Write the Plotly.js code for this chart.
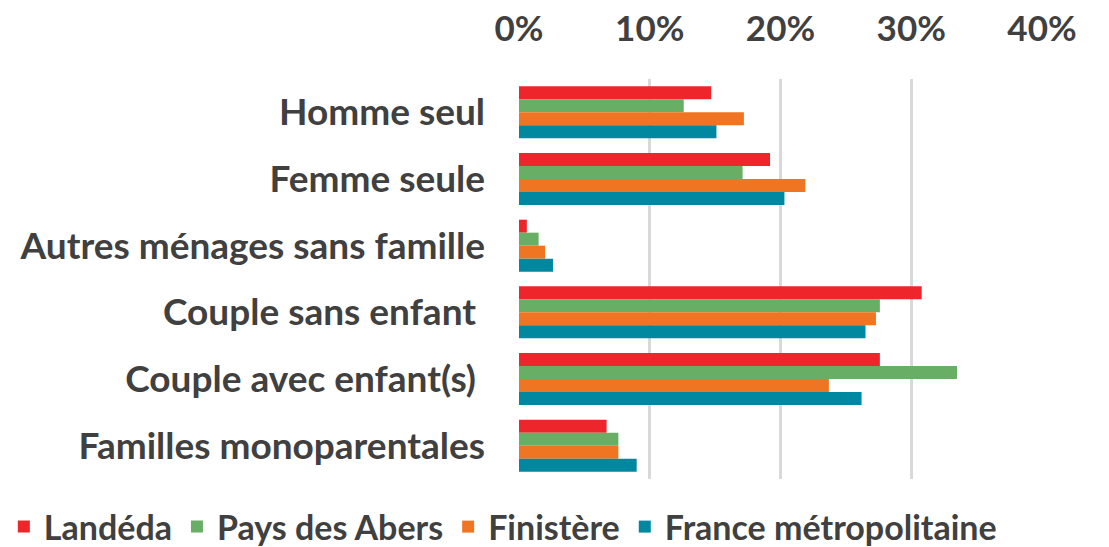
<!DOCTYPE html>
<html><head><meta charset="utf-8">
<script src="https://cdn.plot.ly/plotly-3.0.1.min.js"></script>
<style>html,body{margin:0;padding:0;background:#fff}#chart{width:1109px;height:547px}</style>
</head><body><div id="chart"></div>
<script>
const categories = ["Homme seul", "Femme seule", "Autres ménages sans famille", "Couple sans enfant ", "Couple avec enfant(s) ", "Familles monoparentales"];
const seriesNames = ["Landéda", "Pays des Abers", "Finistère", "France métropolitaine"];
const landeda = [14.7, 19.2, 0.6, 30.8, 27.6, 6.7];
const paysAbers = [12.6, 17.1, 1.5, 27.6, 33.5, 7.6];
const finistere = [17.2, 21.9, 2.0, 27.3, 23.7, 7.6];
const france = [15.1, 20.3, 2.6, 26.5, 26.2, 9.0];
const tickVals = [0, 10, 20, 30, 40];
const tickText = ["0%", "10%", "20%", "30%", "40%"];
const colors = ["#ee252b", "#68ae64", "#ef7522", "#0088a0"];
const allValues = [landeda, paysAbers, finistere, france];

const FONT = "Lato, 'Open Sans', sans-serif";
const traces = allValues.map((vals, i) => ({
  type: "bar", orientation: "h", name: seriesNames[i],
  y: categories, x: vals,
  marker: {color: colors[i], line: {width: 0}},
  hoverinfo: "x+y"
}));

const layout = {
  width: 1109, height: 547,
  margin: {l: 519, r: 67, t: 79, b: 68, autoexpand: false},
  barmode: "group", bargap: 0.22, bargroupgap: 0,
  paper_bgcolor: "#fff", plot_bgcolor: "#fff",
  font: {family: FONT, color: "#404040"},
  xaxis: {
    side: "top", range: [0, 40], tickvals: tickVals, ticktext: tickText,
    showgrid: true, gridcolor: "#d9d9d9", gridwidth: 3,
    zeroline: false, showline: false, ticks: "", ticklabelstandoff: 30,
    tickfont: {family: FONT, size: 35, color: "#404040", weight: "bold"}
  },
  yaxis: {
    autorange: "reversed", showgrid: false, zeroline: false, showline: false,
    ticks: "", ticklabelstandoff: 33,
    tickfont: {family: FONT, size: 37, color: "#404040", weight: "bold"}
  },
  showlegend: true,
  legend: {
    orientation: "h", xref: "paper", yref: "paper",
    x: -0.985, xanchor: "left", y: -0.12, yanchor: "middle",
    bgcolor: "rgba(0,0,0,0)",
    font: {family: FONT, size: 34, color: "#404040", weight: "bold"},
    tracegroupgap: 0, itemwidth: 30
  }
};
Plotly.newPlot("chart", traces, layout, {displayModeBar: false, staticPlot: true});
</script></body></html>
